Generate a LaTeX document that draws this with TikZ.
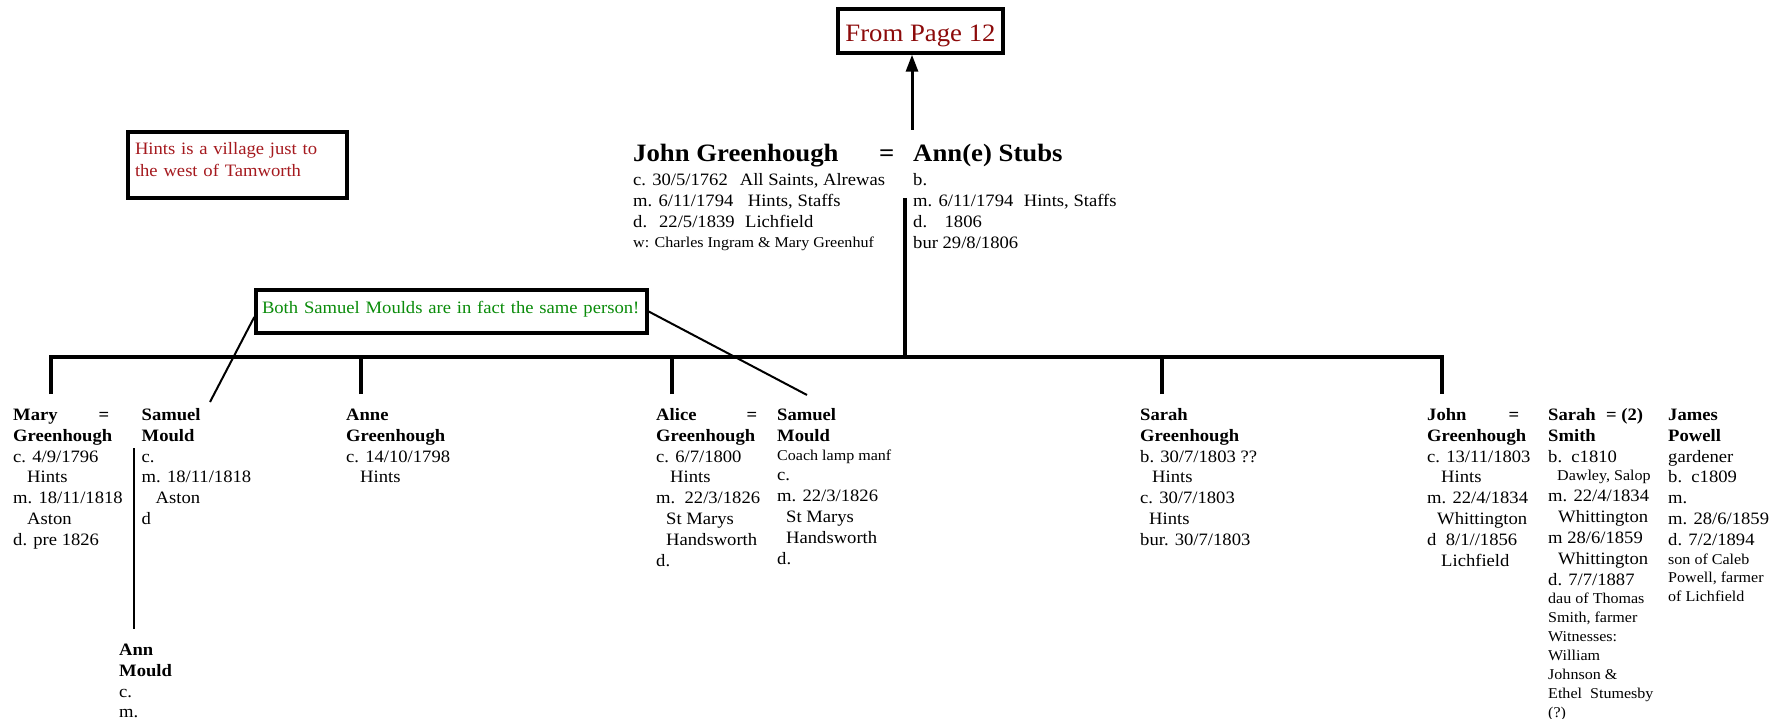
\documentclass[tikz,border=0pt]{standalone}
\usepackage{fontspec}
\setmainfont[FakeStretch=1.07]{Liberation Serif}
\usetikzlibrary{arrows.meta}
\definecolor{pagered}{RGB}{140,10,10}
\definecolor{notered}{RGB}{165,25,30}
\definecolor{notegreen}{RGB}{10,140,10}
\newcommand\nfont{\fontsize{17.4pt}{20.9pt}\selectfont}
\newcommand\sfont{\fontsize{15pt}{\the\baselineskip}\selectfont}
\newcommand\tfont{\fontsize{25pt}{30pt}\selectfont}
\newcommand\fl{\rule{0pt}{18pt}}
\newcommand\ind{\hspace*{14pt}}
\newcommand\nmeq[2]{\textbf{\makebox[#1pt][l]{#2\hfill=}}}
\tikzset{
  tree/.style={line width=3.3pt},
  ptr/.style={line width=2pt},
  col/.style={anchor=north west, inner sep=0pt, align=left, font=\nfont},
  title/.style={anchor=base west, inner sep=0pt, font=\tfont\bfseries},
  box/.style={draw, line width=3.4pt, inner sep=0pt},
}
\begin{document}
\begin{tikzpicture}[x=1pt,y=-1pt]
\fill[white] (0,0) rectangle (1771,719);
\useasboundingbox (0,0) rectangle (1771,719);

% notes
\node[box, minimum width=165pt, minimum height=44pt, text height=21.4pt, text depth=0pt,
      font=\tfont, text=pagered] (page) at (920.5,31) {From Page 12};
\node[box, minimum width=219pt, minimum height=66pt, text width=205pt, align=left,
      font=\fontsize{17.4pt}{22pt}\selectfont, text=notered] (hints) at (237.5,165)
  {\rule{0pt}{13pt}Hints is a village just to\\ the west of Tamworth\rule[-11pt]{0pt}{11pt}};
\node[box, minimum width=391pt, minimum height=43pt, text width=379pt, align=left,
      text height=13pt, text depth=10pt, font=\nfont, text=notegreen] (both) at (451.5,311.5)
  {Both Samuel Moulds are in fact the same person!};

% parents
\node[title] (jg) at (633,162) {John Greenhough};
\node[title] (eq) at (879,162) {=};
\node[title] (as) at (913,162) {Ann(e) Stubs};
\node[col, font=\fontsize{17.4pt}{21pt}\selectfont] (jgd) at (633,167.7)
  {\fl c. 30/5/1762\hspace{12pt}All Saints, Alrewas\\
   m. 6/11/1794\hspace{14.5pt}Hints, Staffs\\
   d.\hspace{12pt}22/5/1839\hspace{10.5pt}Lichfield\\[-1.5pt]
   \sfont w: Charles Ingram \& Mary Greenhuf};
\node[col, font=\fontsize{17.4pt}{21pt}\selectfont] (asd) at (913,167.7)
  {\fl b.\\
   m. 6/11/1794\hspace{10.5pt}Hints, Staffs\\
   d.\hspace{17.5pt}1806\\
   bur 29/8/1806};

% children
\node[col] (mary) at (13,402)
  {\fl\nmeq{96}{Mary}\\ \textbf{Greenhough}\\ c. 4/9/1796\\ \ind Hints\\
   m. 18/11/1818\\ \ind Aston\\ d. pre 1826};
\node[col] (sam1) at (141.5,402)
  {\fl\textbf{Samuel}\\ \textbf{Mould}\\ c.\\ m. 18/11/1818\\ \ind Aston\\ d};
\node[col] (annm) at (119,637)
  {\fl\textbf{Ann}\\ \textbf{Mould}\\ c.\\ m.};
\node[col] (anne) at (346,402)
  {\fl\textbf{Anne}\\ \textbf{Greenhough}\\ c. 14/10/1798\\ \ind Hints};
\node[col] (alice) at (656,402)
  {\fl\nmeq{101}{Alice}\\ \textbf{Greenhough}\\ c. 6/7/1800\\ \ind Hints\\
   m.\ \ 22/3/1826\\ \hspace*{10pt}St Marys\\ \hspace*{10pt}Handsworth\\ d.};
\node[col] (sam2) at (777,402)
  {\fl\textbf{Samuel}\\ \textbf{Mould}\\[-2pt] \sfont Coach lamp manf\\
   \nfont c.\\ m. 22/3/1826\\ \hspace*{9pt}St Marys\\ \hspace*{9pt}Handsworth\\ d.};
\node[col] (sarah) at (1140,402)
  {\fl\textbf{Sarah}\\ \textbf{Greenhough}\\ b. 30/7/1803 ??\\ \hspace*{12pt}Hints\\
   c. 30/7/1803\\ \hspace*{9pt}Hints\\ bur. 30/7/1803};
\node[col] (john) at (1427,402)
  {\fl\nmeq{92}{John}\\ \textbf{Greenhough}\\ c. 13/11/1803\\ \ind Hints\\
   m. 22/4/1834\\ \hspace*{10pt}Whittington\\ d\ \ 8/1//1856\\ \ind Lichfield};
\node[col] (smith) at (1548,402)
  {\fl\textbf{\makebox[58pt][l]{Sarah}= (2)}\\ \textbf{Smith}\\ b.\ \ c1810\\[-2pt]
   \sfont\hspace*{9pt}Dawley, Salop\\
   \nfont m. 22/4/1834\\ \hspace*{10pt}Whittington\\ m 28/6/1859\\ \hspace*{10pt}Whittington\\
   d. 7/7/1887\\[-2.5pt]
   \sfont dau of Thomas\\[-2pt] \sfont Smith, farmer\\[-2pt] \sfont Witnesses:\\[-2pt]
   \sfont William\\[-2pt] \sfont Johnson \&\\[-2pt] \sfont Ethel\ \ Stumesby\\[-2pt] \sfont (?)};
\node[col] (james) at (1668,402)
  {\fl\textbf{James}\\ \textbf{Powell}\\ gardener\\ b.\ \ c1809\\ m.\\ m. 28/6/1859\\
   d. 7/2/1894\\[-2.5pt] \sfont son of Caleb\\[-2pt] \sfont Powell, farmer\\[-2pt] \sfont of Lichfield};

% tree
\coordinate (mar) at (905,198);
\coordinate (bar) at (905,357);
\coordinate (dmary) at (51,394);
\coordinate (danne) at (361,394);
\coordinate (dalice) at (672,394);
\coordinate (dsarah) at (1162,394);
\coordinate (djohn) at (1442,394);
\draw[tree] (mar) -- (bar);
\draw[tree] (dmary) -- (dmary |- bar) -- (djohn |- bar) -- (djohn);
\draw[tree] (danne) -- (danne |- bar);
\draw[tree] (dalice) -- (dalice |- bar);
\draw[tree] (dsarah) -- (dsarah |- bar);

\coordinate (astart) at (912,130);
\draw[line width=3pt, -{Triangle[length=17pt,width=12pt]}] (astart) -- (astart |- page.south);

\coordinate (smT) at (134,448);
\coordinate (smB) at (134,629);
\draw[line width=2.5pt] (smT) -- (smB);

\coordinate (pA) at (210,402);
\coordinate (pB) at (807,395);
\draw[ptr] (pA) -- ([yshift=-5.5pt]both.west);
\draw[ptr] (both.east) -- (pB);
\end{tikzpicture}
\end{document}
